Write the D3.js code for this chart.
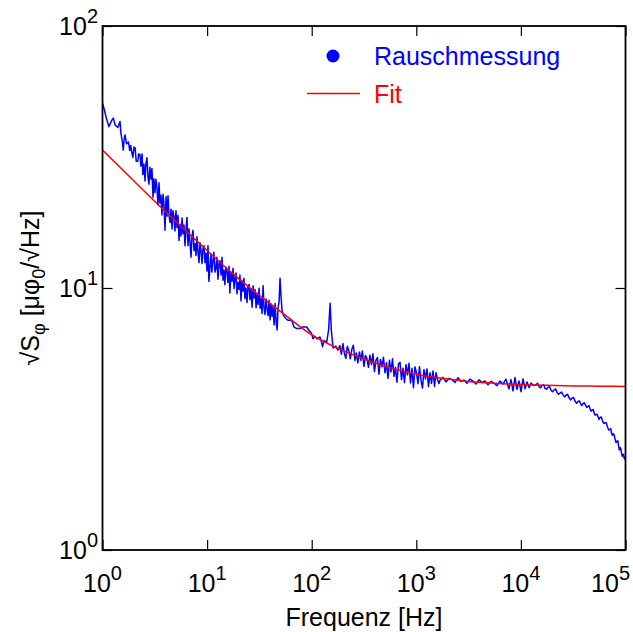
<!DOCTYPE html>
<html><head><meta charset="utf-8">
<script src="https://cdn.jsdelivr.net/npm/d3@7"></script>
<style>body{margin:0;background:#fff} svg{display:block}</style>
</head><body><svg id="c" width="633" height="632"></svg>
<script>
// Measured noise spectrum: [frequency in Hz, sqrt(S_phi) in µPhi0/sqrt(Hz)]
const noiseSpectrum = [
[1.00,50.7],[1.04,48.0],[1.08,45.0],[1.15,41.3],[1.22,43.5],[1.27,44.5],[1.32,41.9],[1.40,41.0],[1.47,43.2],[1.50,39.1],[1.55,36.0],[1.58,33.6],[1.61,37.0],[1.64,38.4],[1.70,35.5],[1.77,36.1],[1.82,33.5],[1.86,35.0],[1.90,33.1],[1.95,31.5],[2.00,34.5],[2.05,34.2],[2.10,30.5],[2.17,30.4],[2.22,32.5],
[2.28,32.3],[2.33,29.2],[2.39,32.5],[2.43,27.1],[2.49,29.7],[2.55,25.6],[2.60,29.8],[2.66,31.4],[2.72,26.6],[2.78,24.9],
[2.84,28.9],[2.91,26.0],[2.97,28.6],[3.04,22.2],[3.10,26.1],[3.17,23.1],[3.24,26.0],[3.32,23.9],[3.39,20.8],[3.47,25.2],
[3.54,21.1],[3.62,22.6],[3.70,19.0],[3.79,22.8],[3.87,20.8],[3.96,16.6],[4.05,22.3],[4.14,18.8],[4.23,22.5],[4.32,19.0],
[4.42,17.8],[4.52,20.0],[4.62,16.8],[4.72,19.7],[4.83,18.7],[4.93,16.5],[5.04,19.7],[5.16,17.0],[5.27,18.9],[5.39,15.2],
[5.51,17.5],[5.63,15.8],[5.76,18.5],[5.88,16.1],[6.01,17.4],[6.15,14.5],[6.28,16.6],[6.42,18.6],[6.57,14.5],[6.71,16.8],
[6.86,15.0],[7.02,13.1],[7.17,15.8],[7.33,16.6],[7.50,13.9],[7.66,14.8],[7.83,13.3],[8.01,15.7],[8.19,13.7],[8.37,12.5],
[8.55,14.9],[8.74,13.9],[8.94,12.4],[9.14,14.2],[9.34,14.5],[9.55,12.5],[9.76,13.6],[9.98,11.6],[10.2,14.5],[10.4,10.6],
[10.7,12.3],[10.9,13.5],[11.1,11.5],[11.4,12.8],[11.6,13.7],[11.9,11.5],[12.2,12.0],[12.4,13.1],[12.7,10.8],[13.0,12.5],
[13.3,12.7],[13.6,11.2],[13.9,13.1],[14.2,10.7],[14.5,11.7],[14.8,10.3],[15.1,12.0],[15.5,11.6],[15.8,10.5],[16.2,12.1],
[16.5,9.57],[16.9,11.5],[17.3,10.6],[17.7,11.9],[18.1,9.93],[18.5,10.9],[18.9,11.4],[19.3,9.5],[19.7,10.5],[20.2,9.87],
[20.6,11.2],[21.1,8.92],[21.5,10.7],[22.0,9.72],[22.5,10.9],[23.0,9.11],[23.5,10.0],[24.1,8.8],[24.6,10.2],[25.2,10.3],
[25.7,9.02],[26.3,9.92],[26.9,8.44],[27.5,10.2],[28.1,9.17],[28.7,9.86],[29.4,8.41],[30.0,9.46],[30.7,8.66],[31.4,9.97],
[32.1,8.37],[32.8,9.12],[33.5,7.99],[34.3,10.2],[35.0,8.41],[35.8,7.92],[36.6,9.07],[37.4,8.32],[38.3,7.84],[39.1,8.97],
[40.0,7.56],[40.9,8.68],[41.8,7.8],[42.7,8.5],[43.7,7.22],[44.7,8.72],[45.7,7.45],[46.7,6.92],[47.7,8.4],
[48.8,8.9],[49.8,10.9],[50.9,9.3],[52.1,8.2],[53.1,7.95],[55.5,7.7],[59.2,7.53],[64.5,7.53],[67.6,7.1],[71.8,7.0],[77.1,7.0],[82.4,7.1],[89.6,7.1],[94.0,6.9],[99.9,6.7],
[103,6.4],[107,6.55],[112,6.4],[120,6.5],[123,6.3],[127,5.97],[131,6.3],[139,6.2],[145,6.9],[150,8.75],[154,6.9],[160,5.9],[170,6.0],[178,5.79],
[186,6.03],[192,5.59],[199,6.14],[205,5.64],[212,5.39],[219,5.99],[227,5.73],[234,5.37],[242,5.84],[250,6.05],
[259,5.29],[267,5.65],[276,5.18],[286,5.70],[295,5.29],[305,5.75],[316,5.02],[326,5.53],[337,5.39],[349,4.98],
[360,5.54],[373,5.10],[385,5.61],[398,4.79],[411,5.29],[425,5.43],[440,4.69],[454,5.34],[470,5.00],[485,5.44],
[502,4.75],[519,5.18],[536,4.52],[554,5.30],[573,4.78],[592,5.37],[612,4.60],[632,4.98],[653,4.37],[675,5.13],
[698,5.21],[722,4.47],[746,4.94],[771,4.35],[797,5.10],[824,4.66],[851,5.16],[880,4.34],[909,4.94],[940,4.16],
[971,5.00],[1004,4.75],[1038,4.31],[1073,5.01],[1109,4.44],[1146,4.15],[1184,4.88],[1224,4.50],[1265,4.91],[1308,4.20],
[1352,4.75],[1397,4.32],[1444,4.82],[1493,4.21],[1543,4.75],[1595,4.47],[1648,4.32],
[1686,4.45],[1800,4.56],[1923,4.38],[2054,4.52],[2194,4.47],[2344,4.36],[2504,4.55],[2674,4.40],[2857,4.45],[3052,4.33],
[3260,4.49],[3482,4.41],[3720,4.30],[3974,4.46],[4245,4.36],[4535,4.42],[4844,4.27],[5174,4.40],[5527,4.33],[5904,4.24],
[6307,4.41],[6737,4.30],[7197,4.49],[7688,4.12],[8036,4.47],[8400,4.05],[8780,4.55],[9178,4.10],[9594,4.42],[10028,4.02],
[10482,4.50],[10957,4.12],[11453,4.38],[11972,4.16],[12514,4.34],[13081,4.24],
[13973,4.28],[14440,4.33],[14926,4.20],[15420,4.16],[15944,4.25],[16480,4.27],[17031,4.14],[17600,4.11],[18192,4.18],[18800,4.20],
[19432,4.07],[20080,4.02],[20757,4.08],[21450,4.12],[22172,3.99],[22920,3.93],[23684,3.97],[24480,4.01],[25299,3.91],[26150,3.84],
[27024,3.90],[27930,3.93],[28866,3.81],[29830,3.74],[30834,3.80],[31870,3.82],[32937,3.70],[34040,3.63],[35182,3.69],[36150,3.71],
[37150,3.63],[38200,3.56],[39260,3.62],[40370,3.65],[41500,3.57],[42600,3.50],[43700,3.53],[44750,3.56],[45800,3.46],[46900,3.39],
[48000,3.42],[49100,3.44],[50200,3.33],[51230,3.27],[52270,3.29],[53470,3.30],[54700,3.22],[55870,3.15],[57060,3.20],[58660,3.22],
[60300,3.11],[61970,3.04],[63680,3.06],[65470,3.06],[67300,2.95],[69170,2.87],[71100,2.88],[72300,2.90],[73500,2.80],[74750,2.74],
[76000,2.78],[77700,2.76],[79500,2.65],[81200,2.57],[83000,2.60],[84500,2.61],[86000,2.49],[87300,2.41],[88700,2.46],[90100,2.45],
[91500,2.35],[93100,2.28],[94700,2.31],[95800,2.32],[97000,2.24],[98900,2.26],[100000,2.20]
];

// Fit curve
const fitFreq = [1, 1.778, 3.162, 5.623, 10, 17.78, 31.62, 56.23, 100, 177.8, 316.2, 562.3, 1000, 1778, 3162, 5623, 10000, 17783, 31623, 56234, 100000];
const fitAmp  = [33.6, 26.8, 21.4, 17.2, 13.9, 11.3, 9.37, 7.86, 6.62, 5.88, 5.36, 4.96, 4.69, 4.52, 4.40, 4.33, 4.28, 4.25, 4.23, 4.22, 4.21];

const xTickExp = [0, 1, 2, 3, 4, 5];
const yTickExp = [0, 1, 2];
const legendLabels = ["Rauschmessung", "Fit"];
const xTitle = "Frequenz [Hz]";

const svg = d3.select("#c");
const font = "'Liberation Sans', Arial, Helvetica, sans-serif";
const M = {left: 102.5, right: 625.5, top: 26, bottom: 550};
const x = d3.scaleLog().domain([1, 1e5]).range([M.left, M.right]);
const y = d3.scaleLog().domain([1, 100]).range([M.bottom, M.top]);

svg.append("clipPath").attr("id", "clip").append("rect")
  .attr("x", M.left).attr("y", M.top).attr("width", M.right - M.left).attr("height", M.bottom - M.top);

const plot = svg.append("g").attr("clip-path", "url(#clip)");

const line = d3.line().x(d => x(d[0])).y(d => y(d[1]));
plot.append("path").datum(noiseSpectrum)
  .attr("d", line).attr("fill", "none").attr("stroke", "#0000ff")
  .attr("stroke-width", 1.5).attr("stroke-linejoin", "round");

const fitData = fitFreq.map((f, i) => [f, fitAmp[i]]);
plot.append("path").datum(fitData)
  .attr("d", d3.line().x(d => x(d[0])).y(d => y(d[1])).curve(d3.curveMonotoneX))
  .attr("fill", "none").attr("stroke", "#ff0000").attr("stroke-width", 1.5);

// ticks (inward, all four sides)
const xt = xTickExp.map(e => Math.pow(10, e));
const yt = yTickExp.map(e => Math.pow(10, e));
function styleAxis(g) {
  g.select(".domain").remove();
  g.selectAll(".tick line").attr("stroke", "#000").attr("stroke-width", 1.2);
  g.selectAll(".tick text").remove();
}
svg.append("g").attr("transform", `translate(0,${M.bottom})`)
  .call(d3.axisBottom(x).tickValues(xt).tickSizeInner(-10).tickSizeOuter(0)).call(styleAxis);
svg.append("g").attr("transform", `translate(0,${M.top})`)
  .call(d3.axisTop(x).tickValues(xt).tickSizeInner(-10).tickSizeOuter(0)).call(styleAxis);
svg.append("g").attr("transform", `translate(${M.left},0)`)
  .call(d3.axisLeft(y).tickValues(yt).tickSizeInner(-10).tickSizeOuter(0)).call(styleAxis);
svg.append("g").attr("transform", `translate(${M.right},0)`)
  .call(d3.axisRight(y).tickValues(yt).tickSizeInner(-10).tickSizeOuter(0)).call(styleAxis);

// frame
svg.append("rect").attr("x", M.left).attr("y", M.top)
  .attr("width", M.right - M.left).attr("height", M.bottom - M.top)
  .attr("fill", "none").attr("stroke", "#000").attr("stroke-width", 1.8);

// tick labels
const lastExp = xTickExp[xTickExp.length - 1];
svg.selectAll(".xl").data(xTickExp).join("text")
  .attr("x", e => e === lastExp ? 630 : x(Math.pow(10, e))).attr("y", 592)
  .attr("text-anchor", e => e === lastExp ? "end" : "middle")
  .attr("font-family", font).attr("font-size", 25).attr("fill", "#000")
  .each(function(e) {
    const t = d3.select(this);
    t.append("tspan").text("10");
    t.append("tspan").attr("font-size", 20).attr("dy", -12).text(e);
  });
svg.selectAll(".yl").data(yTickExp).join("text")
  .attr("x", 98).attr("y", e => y(Math.pow(10, e)) + 9)
  .attr("text-anchor", "end").attr("font-family", font).attr("font-size", 25).attr("fill", "#000")
  .each(function(e) {
    const t = d3.select(this);
    t.append("tspan").text("10");
    t.append("tspan").attr("font-size", 20).attr("dy", -12).text(e);
  });

// axis titles
svg.append("text").attr("x", (M.left + M.right) / 2).attr("y", 626)
  .attr("text-anchor", "middle").attr("font-family", font).attr("font-size", 25).text(xTitle);

const yt0 = svg.append("text").attr("transform", `translate(39,${(M.top + M.bottom) / 2}) rotate(-90)`)
  .attr("text-anchor", "middle").attr("font-family", font).attr("font-size", 25);
yt0.append("tspan").text("\u221AS");
yt0.append("tspan").attr("font-size", 18).attr("dy", 6).text("\u03C6");
yt0.append("tspan").attr("dy", -6).text(" [\u03BC\u03C6");
yt0.append("tspan").attr("font-size", 18).attr("dy", 6).text("0");
yt0.append("tspan").attr("dy", -6).text("/\u221AHz]");

// legend
svg.append("circle").attr("cx", 333).attr("cy", 56).attr("r", 6.5).attr("fill", "#0000ff");
svg.append("text").attr("x", 374).attr("y", 65).attr("font-family", font).attr("font-size", 25)
  .attr("fill", "#0000ff").text(legendLabels[0]);
svg.append("line").attr("x1", 307).attr("x2", 360).attr("y1", 93.5).attr("y2", 93.5)
  .attr("stroke", "#ff0000").attr("stroke-width", 1.5);
svg.append("text").attr("x", 374).attr("y", 103).attr("font-family", font).attr("font-size", 25)
  .attr("fill", "#ff0000").text(legendLabels[1]);
</script></body></html>
